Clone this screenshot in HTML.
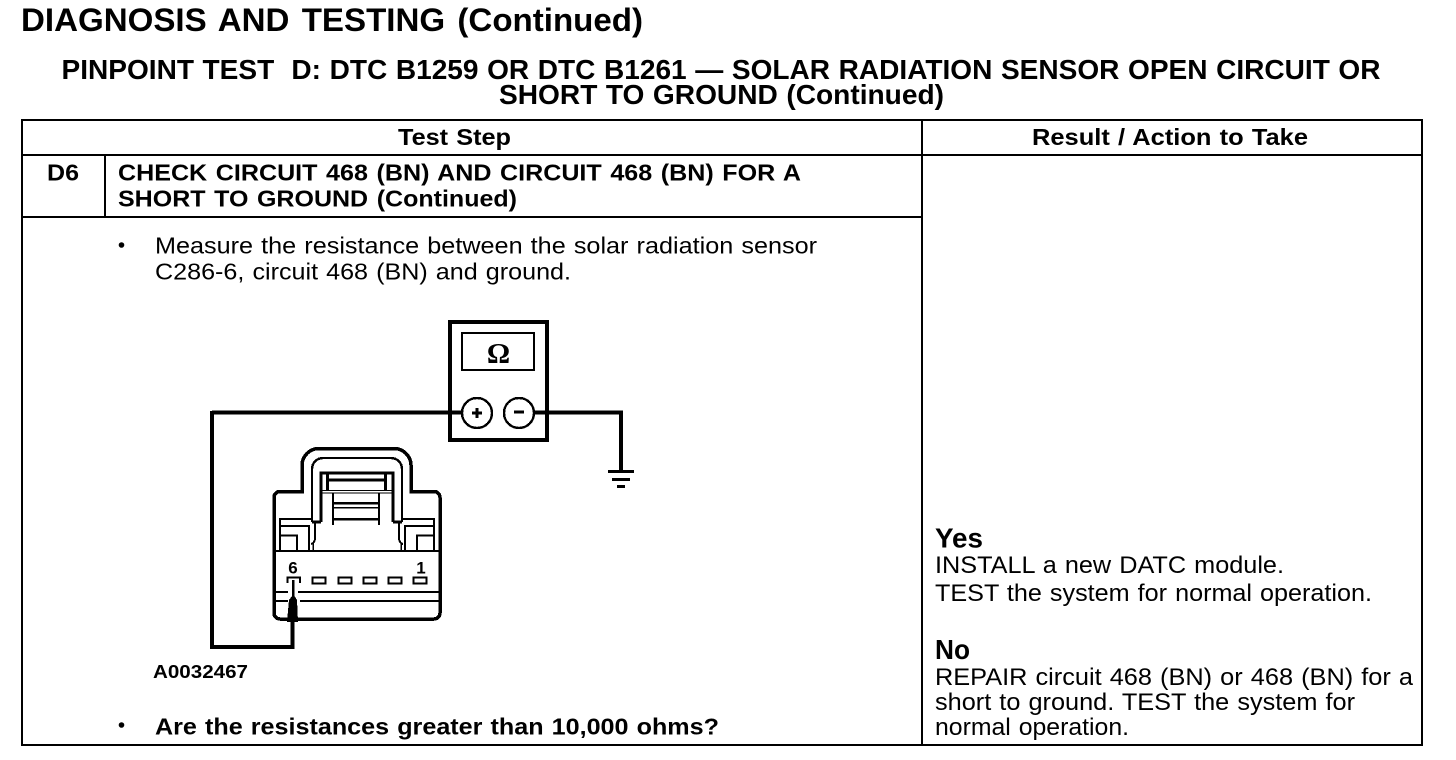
<!DOCTYPE html>
<html>
<head>
<meta charset="utf-8">
<style>
html,body{margin:0;padding:0;background:#fff;width:1456px;height:760px;overflow:hidden}
svg{display:block}
text{font-family:"Liberation Sans",Arial,sans-serif;fill:#000}
.b{font-weight:bold}
</style>
</head>
<body>
<svg width="1456" height="760" viewBox="0 0 1456 760" xmlns="http://www.w3.org/2000/svg">
<rect width="1456" height="760" fill="#fff"/>
<text class="b" x="21" y="31" font-size="32" word-spacing="3" textLength="622" lengthAdjust="spacingAndGlyphs">DIAGNOSIS AND TESTING (Continued)</text>
<text class="b" x="61.500" y="79" font-size="28" word-spacing="0.800" textLength="1319" lengthAdjust="spacingAndGlyphs">PINPOINT TEST&#160; D: DTC B1259 OR DTC B1261 — SOLAR RADIATION SENSOR OPEN CIRCUIT OR</text>
<text class="b" x="499" y="104" font-size="28" word-spacing="0.700" textLength="445" lengthAdjust="spacingAndGlyphs">SHORT TO GROUND (Continued)</text>

<g fill="none" stroke="#000" stroke-width="2" shape-rendering="crispEdges">
<rect x="22" y="120" width="1400" height="625"/>
<path d="M22 155H1422M922 120V745M105 155V217M22 217H922"/>
</g>

<text class="b" x="398" y="145" font-size="23" word-spacing="1" textLength="113" lengthAdjust="spacingAndGlyphs">Test Step</text>
<text class="b" x="1032" y="145" font-size="23" word-spacing="1" textLength="276" lengthAdjust="spacingAndGlyphs">Result / Action to Take</text>
<text class="b" x="47" y="180.500" font-size="23" textLength="32" lengthAdjust="spacingAndGlyphs">D6</text>
<text class="b" x="118" y="180.500" font-size="23" word-spacing="1.500" textLength="683" lengthAdjust="spacingAndGlyphs">CHECK CIRCUIT 468 (BN) AND CIRCUIT 468 (BN) FOR A</text>
<text class="b" x="118" y="206.500" font-size="23" word-spacing="1.500" textLength="399" lengthAdjust="spacingAndGlyphs">SHORT TO GROUND (Continued)</text>

<circle cx="121.500" cy="245" r="2.800" fill="#000"/>
<text x="155" y="253.500" font-size="23" word-spacing="1" textLength="662" lengthAdjust="spacingAndGlyphs">Measure the resistance between the solar radiation sensor</text>
<text x="155" y="279.500" font-size="23" word-spacing="1" textLength="416" lengthAdjust="spacingAndGlyphs">C286-6, circuit 468 (BN) and ground.</text>

<circle cx="121.500" cy="725" r="2.800" fill="#000"/>
<text class="b" x="155" y="734.500" font-size="23" word-spacing="1" textLength="564" lengthAdjust="spacingAndGlyphs">Are the resistances greater than 10,000 ohms?</text>
<text class="b" x="153" y="678" font-size="18.500" textLength="95" lengthAdjust="spacingAndGlyphs">A0032467</text>

<text class="b" x="935" y="547.500" font-size="28" textLength="48" lengthAdjust="spacingAndGlyphs">Yes</text>
<text x="935" y="573" font-size="24" word-spacing="1" textLength="349" lengthAdjust="spacingAndGlyphs">INSTALL a new DATC module.</text>
<text x="935" y="601" font-size="24" word-spacing="1" textLength="437" lengthAdjust="spacingAndGlyphs">TEST the system for normal operation.</text>
<text class="b" x="935" y="659" font-size="28" textLength="35" lengthAdjust="spacingAndGlyphs">No</text>
<text x="935" y="685" font-size="24" word-spacing="1" textLength="478" lengthAdjust="spacingAndGlyphs">REPAIR circuit 468 (BN) or 468 (BN) for a</text>
<text x="935" y="710" font-size="24" word-spacing="1" textLength="420" lengthAdjust="spacingAndGlyphs">short to ground. TEST the system for</text>
<text x="935" y="735" font-size="24" word-spacing="1" textLength="194" lengthAdjust="spacingAndGlyphs">normal operation.</text>

<!-- Meter and wires -->
<g fill="none" stroke="#000" shape-rendering="crispEdges">
<rect x="450" y="322" width="97" height="118" stroke-width="3.600"/>
<rect x="462" y="333" width="72" height="37" stroke-width="2"/>
<path d="M212 412.500H462M534 412.500H621V471M212 411V647H292.500V620" stroke-width="3.600"/>
<circle cx="477" cy="413" r="15" fill="#fff" stroke-width="2.400"/>
<circle cx="519" cy="413" r="15" fill="#fff" stroke-width="2.400"/>
<path d="M472 413H482M477 408V418M514 412H524" stroke-width="3"/>
<path d="M608 471.500H634M612 479.500H630" stroke-width="3"/>
<path d="M617 486.500H625" stroke-width="3"/>
</g>
<text x="498.500" y="363" font-size="29" text-anchor="middle" font-weight="bold" style="font-family:'Liberation Serif',serif">Ω</text>

<!-- Connector -->
<g fill="none" stroke="#000" shape-rendering="crispEdges">
<path d="M302 491.500V465A17 17 0 0 1 319 448.500H394A17 17 0 0 1 411 465V491.500H434A6 6 0 0 1 440 497.500V613A6 6 0 0 1 434 619H280A6 6 0 0 1 274 613V497.500A6 6 0 0 1 280 491.500Z" stroke-width="3.500"/>
<path d="M312 522V469A11 11 0 0 1 323 458H391A11 11 0 0 1 402 469V522" stroke-width="2.400"/>
<path d="M321 522V473H393V522M312 522H321M393 522H402" stroke-width="3"/>
<path d="M327.500 473V491M385.500 473V491" stroke-width="3"/>
<path d="M327 480H385" stroke-width="3"/>
<path d="M321 490.500H393M321 493H393" stroke-width="1.400"/>
<path d="M333 493V525M379 493V525" stroke-width="2"/>
<path d="M333 503H379" stroke-width="2.500"/>
<path d="M333 507.500H379" stroke-width="1.500"/>
<path d="M333 519H379" stroke-width="2.500"/>
<!-- shoulders -->
<path d="M312 519H280V551M280 526H309V551M280 535.500H297V551" stroke-width="2.400"/>
<path d="M402 519H434V551M434 526H405V551M434 535.500H417V551" stroke-width="2.400"/>
<path d="M315 523V538Q315 543 311 544M399 523V538Q399 543 403 544" stroke-width="2"/>
<path d="M313 543V551M401 543V551" stroke-width="1.500"/>
<path d="M274 551H440" stroke-width="2.400"/>
<!-- pins -->
<path d="M287.500 583V577.500H300V583" stroke-width="2"/>
<rect x="312.500" y="577.500" width="13" height="6" stroke-width="2"/>
<rect x="338.500" y="577.500" width="13" height="6" stroke-width="2"/>
<rect x="363.500" y="577.500" width="13" height="6" stroke-width="2"/>
<rect x="388.500" y="577.500" width="13" height="6" stroke-width="2"/>
<rect x="413.500" y="577.500" width="13" height="6" stroke-width="2"/>
<path d="M274 592H288M298 592H440M274 601H288M300 601H440" stroke-width="2"/>
</g>
<text x="293" y="573.500" font-size="17" text-anchor="middle" class="b">6</text>
<text x="421" y="573.500" font-size="17" text-anchor="middle" class="b">1</text>
<path d="M292 580L294.500 580L294.500 596L297 600L298 622H287L289 600L292 596Z" fill="#000" shape-rendering="crispEdges"/>
</svg>
</body>
</html>
